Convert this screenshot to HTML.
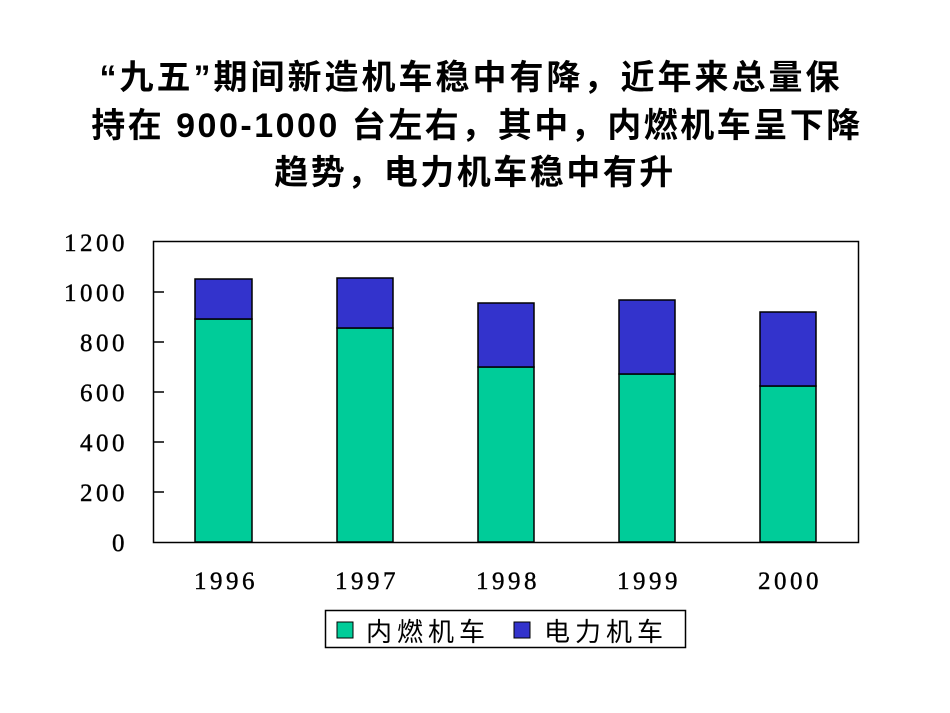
<!DOCTYPE html>
<html><head><meta charset="utf-8"><style>
body{margin:0;background:#fff;width:950px;height:713px;overflow:hidden}
.t{position:absolute;left:0;width:950px;text-align:center;font-family:"Liberation Sans","Noto Sans CJK SC",sans-serif;font-weight:bold;font-size:34px;letter-spacing:2.5px;color:#000;line-height:48px;white-space:nowrap}
</style></head><body>
<div class="t" style="top:54px;left:-4px;letter-spacing:3px">“九五”期间新造机车稳中有降，近年来总量保</div>
<div class="t" style="top:102px;left:2px">持在 900-1000 台左右，其中，内燃机车呈下降</div>
<div class="t" style="top:149px;left:0">趋势，电力机车稳中有升</div>
<svg width="950" height="713" style="position:absolute;left:0;top:0" font-family="Liberation Serif, serif">
<rect x="153.5" y="241.5" width="705" height="301" fill="none" stroke="#000" stroke-width="1.5"/>
<g stroke="#000" stroke-width="1.5">
<line x1="153" y1="292" x2="164" y2="292"/><line x1="153" y1="342" x2="164" y2="342"/>
<line x1="153" y1="392" x2="164" y2="392"/><line x1="153" y1="442" x2="164" y2="442"/>
<line x1="153" y1="492" x2="164" y2="492"/>
</g>
<g font-size="25" text-anchor="end" letter-spacing="3.5" stroke="#000" stroke-width="0.4">
<text x="128" y="251">1200</text><text x="128" y="301">1000</text><text x="128" y="351">800</text>
<text x="128" y="401">600</text><text x="128" y="451">400</text><text x="128" y="501">200</text><text x="128" y="551">0</text>
</g>
<g stroke="#000" stroke-width="1.5">
<rect x="195" y="319" width="57" height="223" fill="#00CC99"/><rect x="195" y="279" width="57" height="40" fill="#3333CC"/>
<rect x="337" y="328" width="56" height="214" fill="#00CC99"/><rect x="337" y="278" width="56" height="50" fill="#3333CC"/>
<rect x="478" y="367" width="56" height="175" fill="#00CC99"/><rect x="478" y="303" width="56" height="64" fill="#3333CC"/>
<rect x="619" y="374" width="56" height="168" fill="#00CC99"/><rect x="619" y="300" width="56" height="74" fill="#3333CC"/>
<rect x="760" y="386" width="56" height="156" fill="#00CC99"/><rect x="760" y="312" width="56" height="74" fill="#3333CC"/>
</g>
<g font-size="25" text-anchor="middle" letter-spacing="3.5" stroke="#000" stroke-width="0.4">
<text x="226" y="589">1996</text><text x="367" y="589">1997</text><text x="508" y="589">1998</text>
<text x="649" y="589">1999</text><text x="790" y="589">2000</text>
</g>
<rect x="325.5" y="610.5" width="360" height="37" fill="#fff" stroke="#000" stroke-width="1.5"/>
<rect x="337" y="622" width="16" height="16" fill="#00CC99" stroke="#000"/>
<rect x="514" y="622" width="16" height="16" fill="#3333CC" stroke="#000"/>
<g font-size="26" letter-spacing="5" font-family="Liberation Sans, Noto Sans CJK SC, sans-serif">
<text x="366" y="641">内燃机车</text><text x="544" y="641">电力机车</text>
</g>
</svg>
</body></html>
